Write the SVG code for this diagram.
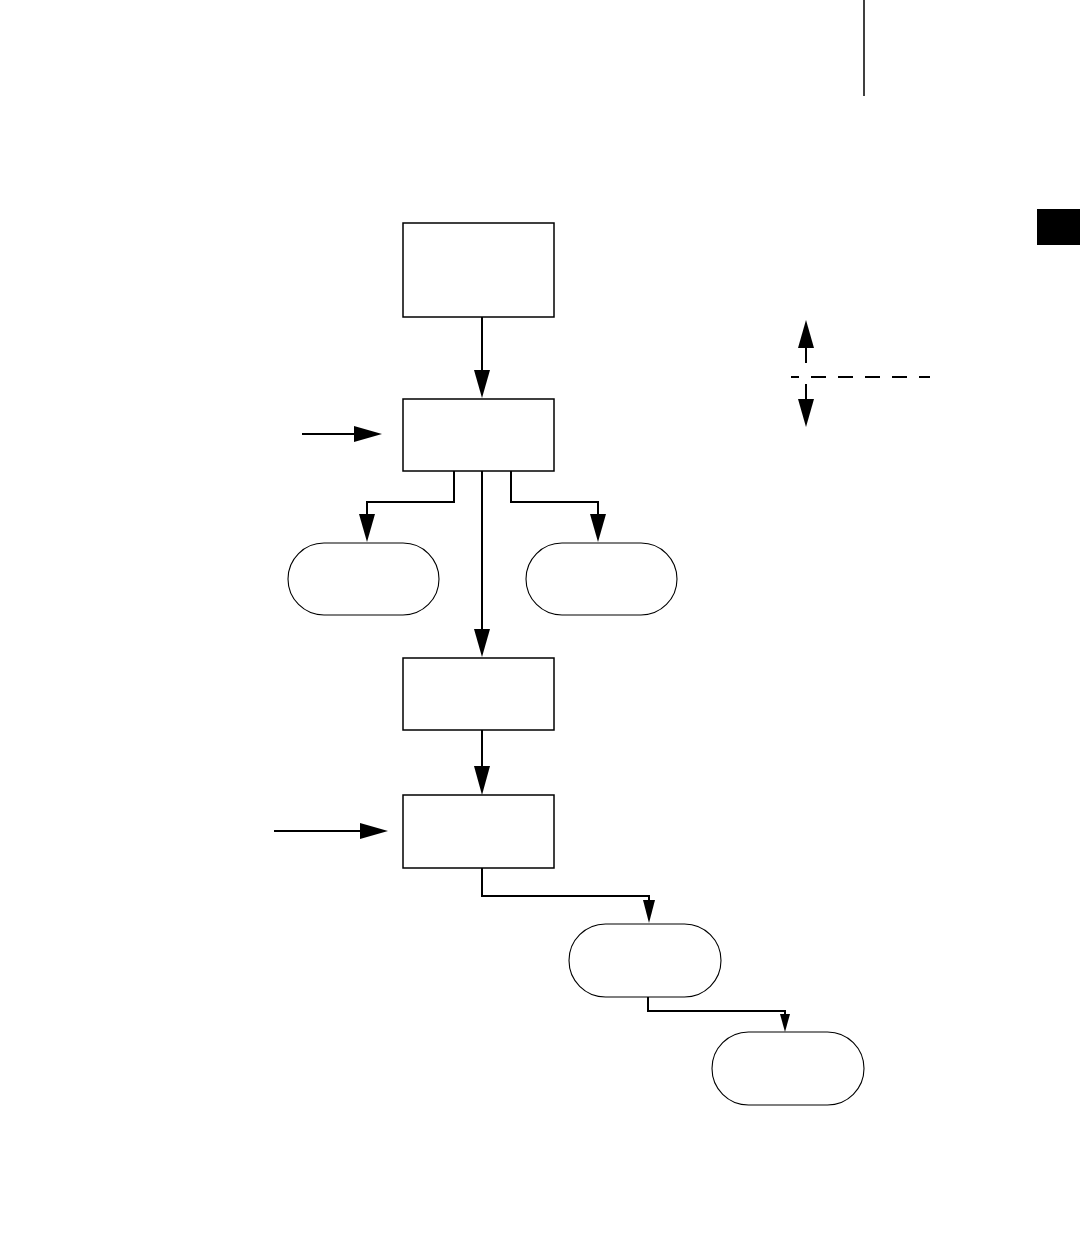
<svg xmlns="http://www.w3.org/2000/svg" width="1080" height="1253" viewBox="0 0 1080 1253">
<style>
.box{fill:#fff;stroke:#000;stroke-width:1.5}
.pill{fill:#fff;stroke:#000;stroke-width:1.1}
.con{fill:none;stroke:#000;stroke-width:2}
.ah{fill:#000;stroke:none}
.dash{fill:none;stroke:#000;stroke-width:2;stroke-dasharray:15 12;stroke-dashoffset:7}
</style>
<rect width="1080" height="1253" fill="#fff"/>
<g id="page-marks">
<line x1="864" y1="0" x2="864" y2="96" stroke="#000" stroke-width="1.5"/>
<rect x="1037" y="209" width="43" height="36" fill="#000"/>
</g>
<g id="n1"><rect class="box" x="403" y="223" width="151" height="94"/></g>
<g id="n2"><rect class="box" x="403" y="399" width="151" height="72"/></g>
<g id="n3"><rect class="pill" x="288" y="543" width="151" height="72" rx="36" ry="36"/></g>
<g id="n4"><rect class="pill" x="526" y="543" width="151" height="72" rx="36" ry="36"/></g>
<g id="n5"><rect class="box" x="403" y="658" width="151" height="72"/></g>
<g id="n6"><rect class="box" x="403" y="795" width="151" height="73"/></g>
<g id="n7"><rect class="pill" x="569" y="924" width="152" height="73" rx="36.5" ry="36.5"/></g>
<g id="n8"><rect class="pill" x="712" y="1032" width="152" height="73" rx="36.5" ry="36.5"/></g>
<g id="legend">
<line class="con" x1="806" y1="346" x2="806" y2="363"/>
<polygon class="ah" points="806,320 798,348 814,348"/>
<line class="dash" x1="791" y1="377" x2="930" y2="377"/>
<line class="con" x1="806" y1="384" x2="806" y2="401"/>
<polygon class="ah" points="806,427 798,399 814,399"/>
</g>
<g id="connectors">
<line class="con" x1="482" y1="317" x2="482" y2="372"/>
<polygon class="ah" points="482,398 474,370 490,370"/>
<line class="con" x1="302" y1="434" x2="358" y2="434"/>
<polygon class="ah" points="382,434 354,426 354,442"/>
<polyline class="con" points="454,471 454,502 367,502 367,516"/>
<polygon class="ah" points="367,542 359,514 375,514"/>
<polyline class="con" points="511,471 511,502 598,502 598,516"/>
<polygon class="ah" points="598,542 590,514 606,514"/>
<line class="con" x1="482" y1="471" x2="482" y2="630"/>
<polygon class="ah" points="482,657 474,629 490,629"/>
<line class="con" x1="482" y1="730" x2="482" y2="768"/>
<polygon class="ah" points="482,795 474,766 490,766"/>
<line class="con" x1="274" y1="831" x2="362" y2="831"/>
<polygon class="ah" points="388,831 360,823 360,839"/>
<polyline class="con" points="482,868 482,896 649,896 649,902"/>
<polygon class="ah" points="649,923 643,900 655,900"/>
<polyline class="con" points="648,997 648,1011 785,1011 785,1016"/>
<polygon class="ah" points="785,1032 780,1014 790,1014"/>
</g>
</svg>
